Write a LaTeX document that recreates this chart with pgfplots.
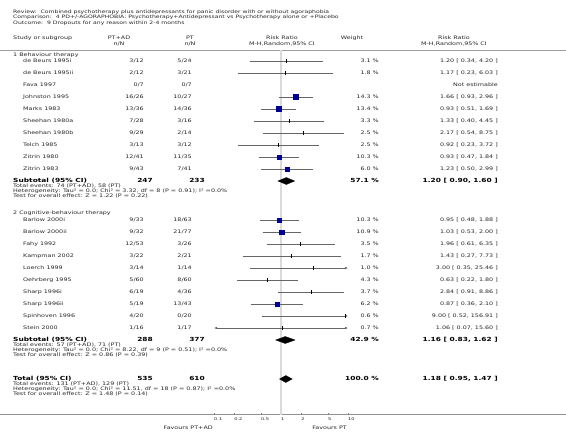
\documentclass[border=0pt]{standalone}
\usepackage{pgfplots}
\pgfplotsset{compat=1.18}
\usetikzlibrary{arrows.meta}
\usepackage{fontspec}
\setmainfont{DejaVu Sans}[FakeStretch=1.33]
\definecolor{txt}{HTML}{262626}
\definecolor{sq}{RGB}{0,0,150}
\definecolor{ciline}{HTML}{666666}
\definecolor{rulec}{HTML}{A0A0A0}
\definecolor{vline}{HTML}{DADADA}
\newcommand\fs{\fontsize{4.8bp}{5bp}\selectfont}
\newcommand\fb{\fontsize{5.6bp}{6bp}\selectfont\bfseries}
\newcommand\ftt{\fontsize{4.6bp}{5bp}\selectfont}
\newcommand\ftick{\fontsize{3.8bp}{4bp}\selectfont}
\tikzset{t/.style={inner sep=0pt, text=txt, font=\fs, text height=3.5bp, text depth=1.1bp},
         b/.style={inner sep=0pt, text=black, font=\fb, text height=4.1bp, text depth=1.3bp},
         ar/.style={ciline, line width=0.6bp}}
\newcommand\TL[3]{\node[t,anchor=west] at (#1bp,439bp-#2bp) {#3};}
\newcommand\TR[3]{\node[t,anchor=east] at (#1bp,439bp-#2bp) {#3};}
\newcommand\TC[3]{\node[t,anchor=center] at (#1bp,439bp-#2bp) {#3};}
\newcommand\BL[3]{\node[b,anchor=west] at (#1bp,439bp-#2bp) {#3};}
\newcommand\BR[3]{\node[b,anchor=east] at (#1bp,439bp-#2bp) {#3};}
\newcommand\Row[6]{\TL{23}{#1}{#2}\TR{144}{#1}{#3}\TR{192}{#1}{#4}\TR{379}{#1}{#5}\TR{498}{#1}{#6}}
\begin{document}
\begin{tikzpicture}
\path[use as bounding box] (0,0) rectangle (566bp,439bp);
% rules
\draw[rulec, line width=0.8bp] (0,439bp-50bp) -- (566bp,439bp-50bp);
\draw[rulec!90!black, line width=1bp] (0,439bp-415bp) -- (566bp,439bp-415bp);
\begin{axis}[
  at={(214bp,24bp)}, anchor=south west, scale only axis,
  width=134bp, height=415bp,
  xmode=log, xmin=0.1, xmax=10, ymin=0, ymax=415, y dir=reverse,
  axis x line*=bottom, axis y line=none, x axis line style={draw=none},
  xtick={0.1,0.2,0.5,1,2,5,10}, xticklabels={0.1,0.2,0.5,1,2,5,10},
  minor xtick={}, tick align=inside, major tick length=2bp,
  tick style={rulec!80!black, line width=0.4bp},
  xticklabel style={anchor=north west, inner sep=0pt, yshift=-2.5bp, font=\ftick, text=txt},
  clip=false,
]
\addplot[vline, line width=1.3bp] coordinates {(1,50.5) (1,414.5)};
% group 1 CIs
\addplot[ar] coordinates {(0.34,61) (4.20,61)};
\addplot[ar] coordinates {(0.23,73) (6.03,73)};
\addplot[ar] coordinates {(0.93,97) (2.96,97)};
\addplot[ar] coordinates {(0.51,109) (1.69,109)};
\addplot[ar] coordinates {(0.40,121) (4.45,121)};
\addplot[ar] coordinates {(0.54,133) (8.75,133)};
\addplot[ar] coordinates {(0.23,145) (3.72,145)};
\addplot[ar] coordinates {(0.47,157) (1.84,157)};
\addplot[ar] coordinates {(0.50,169) (2.99,169)};
% group 2 CIs
\addplot[ar] coordinates {(0.48,220) (1.88,220)};
\addplot[ar] coordinates {(0.53,232) (2.00,232)};
\addplot[ar] coordinates {(0.61,244) (6.35,244)};
\addplot[ar] coordinates {(0.27,256) (7.73,256)};
\addplot[ar, -{Latex[length=3bp,width=2.6bp]}] coordinates {(0.35,268) (10,268)};
\addplot[ar] coordinates {(0.22,280) (1.80,280)};
\addplot[ar] coordinates {(0.91,292) (8.86,292)};
\addplot[ar] coordinates {(0.36,304) (2.10,304)};
\addplot[ar, -{Latex[length=3bp,width=2.6bp]}] coordinates {(0.52,316) (10,316)};
\addplot[ar, {Latex[length=3bp,width=2.6bp]}-{Latex[length=3bp,width=2.6bp]}] coordinates {(0.1,328) (10,328)};
% small-weight point estimates
\addplot[only marks, mark=|, mark size=1.6bp, black, mark options={line width=0.6bp}] coordinates {
 (1.20,61) (1.17,73) (1.33,121) (2.17,133) (0.92,145)
 (1.96,244) (1.43,256) (3.00,268) (0.63,280) (2.84,292) (9.00,316) (1.06,328)};
% weighted squares
\addplot[only marks, mark=square*, sq, mark size=2.55bp] coordinates {(1.66,97)};
\addplot[only marks, mark=square*, sq, mark size=2.45bp] coordinates {(0.93,109)};
\addplot[only marks, mark=square*, sq, mark size=2.15bp] coordinates {(0.93,157)};
\addplot[only marks, mark=square*, sq, mark size=1.7bp] coordinates {(1.23,169)};
\addplot[only marks, mark=square*, sq, mark size=2.15bp] coordinates {(0.95,220)};
\addplot[only marks, mark=square*, sq, mark size=2.2bp] coordinates {(1.03,232)};
\addplot[only marks, mark=square*, sq, mark size=1.75bp] coordinates {(0.87,304)};
% diamonds
\addplot[fill=black, draw=black, line width=0.3bp] coordinates {(0.90,181) (1.20,177.5) (1.60,181) (1.20,184.5)} -- cycle;
\addplot[fill=black, draw=black, line width=0.3bp] coordinates {(0.83,340) (1.16,336.5) (1.62,340) (1.16,343.5)} -- cycle;
\addplot[fill=black, draw=black, line width=0.3bp] coordinates {(0.95,379) (1.18,375.5) (1.47,379) (1.18,382.5)} -- cycle;
\end{axis}
% titles
\node[t,anchor=west,font=\ftt] at (13bp,439bp-12bp) {Review:\ \ Combined psychotherapy plus antidepressants for panic disorder with or without agoraphobia};
\node[t,anchor=west,font=\ftt] at (13bp,439bp-17.7bp) {Comparison:\ \ 4 PD+/-AGORAPHOBIA: Psychotherapy+Antidepressant vs Psychotherapy alone or +Placebo};
\node[t,anchor=west,font=\ftt] at (13bp,439bp-23.4bp) {Outcome:\ \ 9 Dropouts for any reason within 2-4 months};
% header
\TL{13}{38.5}{Study or subgroup}
\TC{119}{38.5}{PT+AD}\TC{119}{44.5}{n/N}
\TC{190}{38.5}{PT}\TC{190}{44.5}{n/N}
\TC{282}{38.5}{Risk Ratio}\TC{282}{44.5}{M-H,Random,95\% CI}
\TC{352}{38.5}{Weight}
\TC{454}{38.5}{Risk Ratio}\TC{454}{44.5}{M-H,Random,95\% CI}
% group 1
\TL{13}{55}{1 Behaviour therapy}
\Row{61}{de Beurs 1995i}{3/12}{5/24}{3.1 \%}{1.20 [ 0.34, 4.20 ]}
\Row{73}{de Beurs 1995ii}{2/12}{3/21}{1.8 \%}{1.17 [ 0.23, 6.03 ]}
\Row{85}{Fava 1997}{0/7}{0/7}{}{Not estimable}
\Row{97}{Johnston 1995}{16/26}{10/27}{14.3 \%}{1.66 [ 0.93, 2.96 ]}
\Row{109}{Marks 1983}{13/36}{14/36}{13.4 \%}{0.93 [ 0.51, 1.69 ]}
\Row{121}{Sheehan 1980a}{7/28}{3/16}{3.3 \%}{1.33 [ 0.40, 4.45 ]}
\Row{133}{Sheehan 1980b}{9/29}{2/14}{2.5 \%}{2.17 [ 0.54, 8.75 ]}
\Row{145}{Telch 1985}{3/13}{3/12}{2.5 \%}{0.92 [ 0.23, 3.72 ]}
\Row{157}{Zitrin 1980}{12/41}{11/35}{10.3 \%}{0.93 [ 0.47, 1.84 ]}
\Row{169}{Zitrin 1983}{9/43}{7/41}{6.0 \%}{1.23 [ 0.50, 2.99 ]}
\BL{13}{181}{Subtotal (95\% CI)}\BR{153}{181}{247}\BR{205}{181}{233}\BR{379}{181}{57.1 \%}\BR{498}{181}{1.20 [ 0.90, 1.60 ]}
\TL{13}{186.5}{Total events: 74 (PT+AD), 58 (PT)}
\TL{13}{191.2}{Heterogeneity: Tau² = 0.0; Chi² = 3.32, df = 8 (P = 0.91); I² =0.0\%}
\TL{13}{195.9}{Test for overall effect: Z = 1.22 (P = 0.22)}
% group 2
\TL{13}{213}{2 Cognitive-behaviour therapy}
\Row{220}{Barlow 2000i}{9/33}{18/63}{10.3 \%}{0.95 [ 0.48, 1.88 ]}
\Row{232}{Barlow 2000ii}{9/32}{21/77}{10.9 \%}{1.03 [ 0.53, 2.00 ]}
\Row{244}{Fahy 1992}{12/53}{3/26}{3.5 \%}{1.96 [ 0.61, 6.35 ]}
\Row{256}{Kampman 2002}{3/22}{2/21}{1.7 \%}{1.43 [ 0.27, 7.73 ]}
\Row{268}{Loerch 1999}{3/14}{1/14}{1.0 \%}{3.00 [ 0.35, 25.46 ]}
\Row{280}{Oehrberg 1995}{5/60}{8/60}{4.3 \%}{0.63 [ 0.22, 1.80 ]}
\Row{292}{Sharp 1996i}{6/19}{4/36}{3.7 \%}{2.84 [ 0.91, 8.86 ]}
\Row{304}{Sharp 1996ii}{5/19}{13/43}{6.2 \%}{0.87 [ 0.36, 2.10 ]}
\Row{316}{Spinhoven 1996}{4/20}{0/20}{0.6 \%}{9.00 [ 0.52, 156.91 ]}
\Row{328}{Stein 2000}{1/16}{1/17}{0.7 \%}{1.06 [ 0.07, 15.60 ]}
\BL{13}{340}{Subtotal (95\% CI)}\BR{153}{340}{288}\BR{205}{340}{377}\BR{379}{340}{42.9 \%}\BR{498}{340}{1.16 [ 0.83, 1.62 ]}
\TL{13}{345.5}{Total events: 57 (PT+AD), 71 (PT)}
\TL{13}{350.2}{Heterogeneity: Tau² = 0.0; Chi² = 8.22, df = 9 (P = 0.51); I² =0.0\%}
\TL{13}{354.9}{Test for overall effect: Z = 0.86 (P = 0.39)}
% total
\BL{13}{379}{Total (95\% CI)}\BR{153}{379}{535}\BR{205}{379}{610}\BR{379}{379}{100.0 \%}\BR{498}{379}{1.18 [ 0.95, 1.47 ]}
\TL{13}{384.5}{Total events: 131 (PT+AD), 129 (PT)}
\TL{13}{389.2}{Heterogeneity: Tau² = 0.0; Chi² = 11.51, df = 18 (P = 0.87); I² =0.0\%}
\TL{13}{393.9}{Test for overall effect: Z = 1.48 (P = 0.14)}
% favours
\TR{213}{428}{Favours PT+AD}
\TR{347}{428}{Favours PT}
\end{tikzpicture}
\end{document}
